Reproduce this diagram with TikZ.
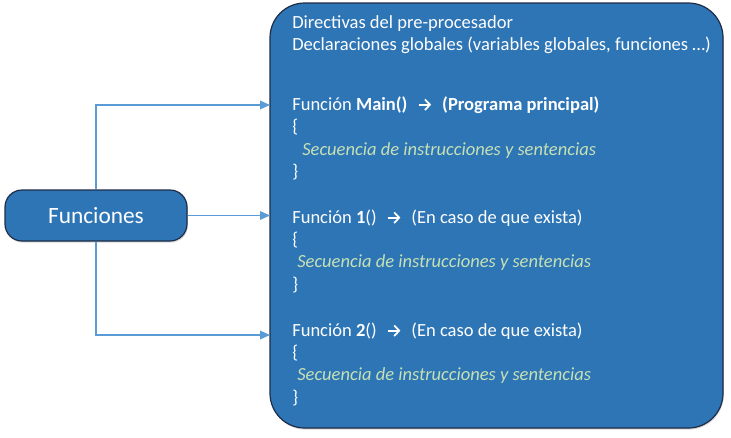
\documentclass[tikz,border=0pt]{standalone}
\usepackage{fontspec}
\setmainfont{Carlito}
\usetikzlibrary{shadows,arrows.meta}
\definecolor{boxblue}{HTML}{2E75B6}
\definecolor{boxedge}{HTML}{1E2D48}
\definecolor{linkblue}{HTML}{5B9BD5}
\definecolor{seqgreen}{HTML}{C5E0B4}
\tikzset{
  bluebox/.style={draw=boxedge, line width=0.9pt, fill=boxblue,
    drop shadow={shadow xshift=0.6pt, shadow yshift=-1.2pt, opacity=0.25, fill=black!60}},
  conn/.style={draw=linkblue, line width=0.9pt, -{Triangle[length=7.5pt,width=6.5pt]}},
  codeline/.style={anchor=base west, inner sep=0pt, text=white, font=\fontsize{13.9}{16}\selectfont},
  seqline/.style={codeline, text=seqgreen, font=\fontsize{13.9}{16}\selectfont\itshape},
}
\newcommand{\arr}{\hspace{0.55em}\tikz[baseline=-0.6ex]\draw[white, line width=1.3pt, -{Straight Barb[length=3.8pt,width=8pt]}] (0,0) -- (9.5pt,0);\hspace{0.55em}}
\begin{document}
\begin{tikzpicture}[x=0.75pt, y=-0.75pt]
\useasboundingbox (0,0) rectangle (731,437);
% main block
\node[bluebox, rounded corners=26pt, minimum width=339.75pt, minimum height=318.75pt, inner sep=0pt] (main) at (496.5,215.5) {};
% Funciones
\node[bluebox, rounded corners=12.75pt, minimum width=136.5pt, minimum height=38.25pt, inner sep=0pt,
  text=white, font=\fontsize{17.5}{20}\selectfont] (fun) at (96,215.5) {Funciones};
% targets
\coordinate (t1) at (270,105);
\coordinate (t2) at (270,215.5);
\coordinate (t3) at (270,335);
\draw[conn] (fun.north) |- (t1);
\draw[conn] (fun.east) -- (t2);
\draw[conn] (fun.south) |- (t3);
% text
\node[codeline] (l1) at (292,28) {Directivas del pre-procesador};
\node[codeline] (l2) at (292,50) {Declaraciones globales (variables globales, funciones \ldots)};
\node[codeline] (m1) at (292,110) {Función \textbf{Main()}\arr\textbf{(Programa principal)}};
\node[codeline] (m2) at (292,132) {\{};
\node[seqline] (m3) at (302,155) {Secuencia de instrucciones y sentencias};
\node[codeline] (m4) at (292,177) {\}};
\node[codeline] (a1) at (292,223) {Función \textbf{1}()\arr(En caso de que exista)};
\node[codeline] (a2) at (292,245) {\{};
\node[seqline] (a3) at (297,267) {Secuencia de instrucciones y sentencias};
\node[codeline] (a4) at (292,290) {\}};
\node[codeline] (b1) at (292,336) {Función \textbf{2}()\arr(En caso de que exista)};
\node[codeline] (b2) at (292,358) {\{};
\node[seqline] (b3) at (297,380) {Secuencia de instrucciones y sentencias};
\node[codeline] (b4) at (292,403) {\}};
\end{tikzpicture}
\end{document}
